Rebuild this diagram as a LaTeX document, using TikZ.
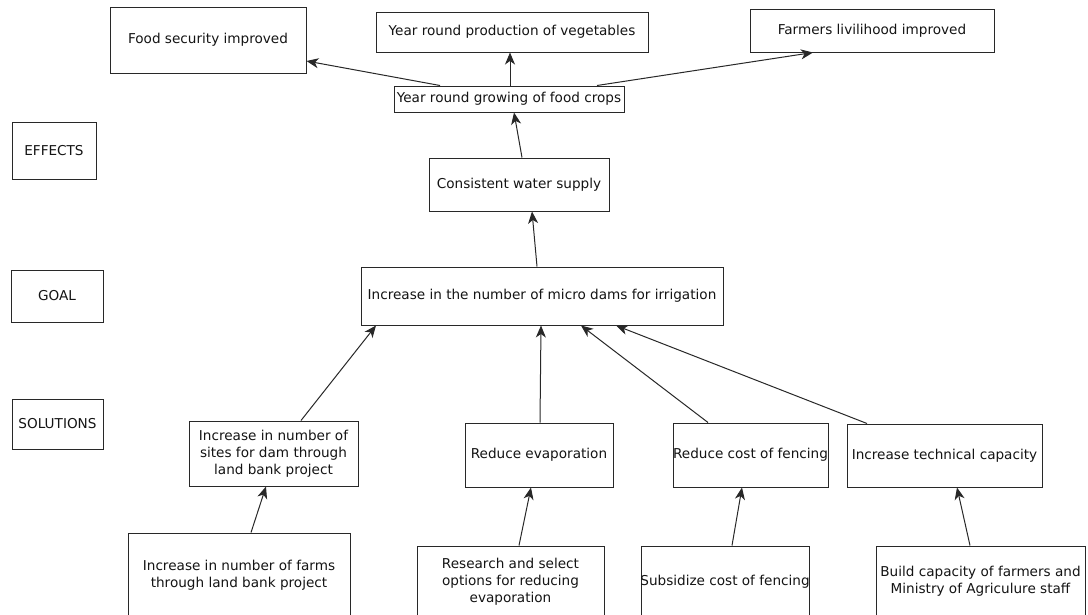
\documentclass[tikz,border=0pt]{standalone}
\usepackage{fontspec}
\setmainfont{DejaVu Sans}
\usetikzlibrary{arrows.meta,calc}
\definecolor{edgec}{RGB}{40,40,40}
\definecolor{txtc}{RGB}{20,20,20}
\begin{document}
\begin{tikzpicture}[x=1pt,y=-1pt,
  box/.style={draw=edgec, line width=1pt, rectangle, inner sep=0pt, align=center,
    text=txtc, font=\fontsize{13.6}{16.8}\selectfont},
  conn/.style={draw=edgec, line width=1pt, -{Stealth[length=12pt,width=10pt,inset=3.5pt]}}]
\useasboundingbox (0,0) rectangle (1088,614);
\clip (0,0) rectangle (1088,614);
\fill[white] (0,0) rectangle (1088,614);
% row labels
\node[box, minimum width=84pt, minimum height=57pt] (effects) at (54,150.5) {EFFECTS};
\node[box, minimum width=92pt, minimum height=52pt] (goal) at (57,296) {GOAL};
\node[box, minimum width=91pt, minimum height=50pt] (solutions) at (57.5,424) {SOLUTIONS};
% effects
\node[box, minimum width=196pt, minimum height=66pt] (food) at (208,40) {Food security improved};
\node[box, minimum width=272pt, minimum height=40pt] (veg) at (512,32) {Year round production of vegetables};
\node[box, minimum width=244pt, minimum height=43pt] (farm) at (872,30.5) {Farmers livilihood improved};
\node[box, minimum width=230pt, minimum height=26pt] (grow) at (509,99) {\makebox[0pt]{Year round growing of food crops}};
\node[box, minimum width=180pt, minimum height=53pt] (water) at (519,184.5) {Consistent water supply};
% goal
\node[box, minimum width=362pt, minimum height=58pt] (dams) at (542,296) {\makebox[0pt]{Increase in the number of micro dams for irrigation}};
% solutions
\node[box, minimum width=169pt, minimum height=65pt] (sites) at (273.5,453.5) {Increase in number of\\sites for dam through\\land bank project};
\node[box, minimum width=148pt, minimum height=64pt] (evap) at (539,455) {Reduce evaporation};
\node[box, minimum width=155pt, minimum height=64pt] (fence) at (750.5,455) {\makebox[0pt]{Reduce cost of fencing}};
\node[box, minimum width=195pt, minimum height=63pt] (tech) at (944.5,455.5) {Increase technical capacity};
% bottom row
\node[box, minimum width=222pt, minimum height=84pt] (farms) at (239,575) {Increase in number of farms\\through land bank project};
\node[box, minimum width=187pt, minimum height=71pt] (research) at (510.5,581.5) {Research and select\\options for reducing\\evaporation};
\node[box, minimum width=168pt, minimum height=71pt] (subs) at (725,581.5) {\makebox[0pt]{Subsidize cost of fencing}};
\node[box, minimum width=209pt, minimum height=71pt] (build) at (980.5,581.5) {\makebox[0pt]{\begin{tabular}{@{}c@{}}Build capacity of farmers and\\Ministry of Agriculure staff\end{tabular}}};
% connectors
\draw[conn] ($(grow.north)+(-69,0)$) -- ($(food.east)+(0,21)$);
\draw[conn] ($(grow.north)+(1,0)$) -- ($(veg.south)+(-2,0)$);
\draw[conn] ($(grow.north)+(88,0)$) -- ($(farm.south)+(-59,0)$);
\draw[conn] ($(water.north)+(3,0)$) -- ($(grow.south)+(5,0)$);
\draw[conn] ($(dams.north)+(-5,0)$) -- ($(water.south)+(13,0)$);
\draw[conn] ($(sites.north)+(27.5,0)$) -- ($(dams.south)+(-166,0)$);
\draw[conn] ($(evap.north)+(1,0)$) -- ($(dams.south)+(-1,0)$);
\draw[conn] ($(fence.north)+(-42.5,0)$) -- ($(dams.south)+(39,0)$);
\draw[conn] ($(tech.north)+(-77.5,0)$) -- ($(dams.south)+(74,0)$);
\draw[conn] ($(farms.north)+(12,0)$) -- ($(sites.south)+(-7.5,0)$);
\draw[conn] ($(research.north)+(8.5,0)$) -- ($(evap.south)+(-8,0)$);
\draw[conn] ($(subs.north)+(7,0)$) -- ($(fence.south)+(-8.5,0)$);
\draw[conn] ($(build.north)+(-10.5,0)$) -- ($(tech.south)+(12.5,0)$);
\end{tikzpicture}
\end{document}
